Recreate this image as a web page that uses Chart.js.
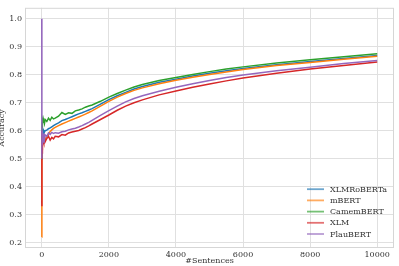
<!DOCTYPE html>
<html>
<head>
<meta charset="utf-8">
<script src="https://cdn.jsdelivr.net/npm/chart.js@4"></script>
<style>
  html, body { margin: 0; padding: 0; background: #fff; }
  #wrap { width: 399px; height: 266px; }
</style>
</head>
<body>
<div id="wrap"><canvas id="c" width="399" height="266"></canvas></div>
<script>
const sentences = [0, 1, 2, 3, 4, 6, 8, 10, 15, 20,
  30, 40, 60, 80, 100, 150, 200, 250, 300, 350,
  400, 500, 600, 700, 800, 900, 1000, 1100, 1200, 1300,
  1400, 1500, 1750, 2000, 2250, 2500, 2750, 3000, 3500, 4000,
  4500, 5000, 5500, 6000, 7000, 8000, 9000, 10000];

const xlmRoberta = [0.52, 0.50, 0.55, 0.52, 0.56, 0.55, 0.58, 0.56, 0.59, 0.58,
  0.60, 0.59, 0.60, 0.595, 0.60, 0.602, 0.607, 0.61, 0.614, 0.618,
  0.622, 0.628, 0.636, 0.64, 0.645, 0.65, 0.655, 0.66, 0.664, 0.669,
  0.674, 0.679, 0.695, 0.711, 0.725, 0.737, 0.749, 0.758, 0.773, 0.784,
  0.795, 0.805, 0.814, 0.822, 0.836, 0.847, 0.858, 0.869];
const mBert = [0.22, 0.30, 0.40, 0.45, 0.50, 0.52, 0.55, 0.53, 0.56, 0.55,
  0.57, 0.56, 0.57, 0.575, 0.57, 0.578, 0.588, 0.597, 0.603, 0.608,
  0.612, 0.618, 0.624, 0.629, 0.634, 0.639, 0.644, 0.649, 0.654, 0.659,
  0.665, 0.671, 0.688, 0.705, 0.72, 0.733, 0.744, 0.753, 0.768, 0.78,
  0.791, 0.801, 0.81, 0.819, 0.833, 0.844, 0.855, 0.866];
const camembert = [0.50, 0.60, 0.63, 0.60, 0.62, 0.58, 0.63, 0.61, 0.635, 0.62,
  0.64, 0.63, 0.635, 0.625, 0.64, 0.633, 0.645, 0.637, 0.648, 0.642,
  0.645, 0.652, 0.665, 0.658, 0.664, 0.662, 0.671, 0.674, 0.678, 0.684,
  0.688, 0.692, 0.705, 0.72, 0.733, 0.745, 0.756, 0.765, 0.779, 0.79,
  0.801, 0.811, 0.82, 0.828, 0.842, 0.853, 0.864, 0.875];
const xlm = [0.35, 0.33, 0.38, 0.50, 0.55, 0.60, 0.52, 0.58, 0.55, 0.57,
  0.54, 0.57, 0.56, 0.575, 0.56, 0.572, 0.58, 0.566, 0.576, 0.571,
  0.58, 0.578, 0.586, 0.584, 0.592, 0.595, 0.598, 0.601, 0.606, 0.611,
  0.617, 0.624, 0.64, 0.656, 0.673, 0.688, 0.70, 0.71, 0.728, 0.742,
  0.755, 0.767, 0.778, 0.788, 0.805, 0.82, 0.833, 0.845];
const flaubert = [1.0, 0.50, 0.62, 0.55, 0.60, 0.52, 0.60, 0.56, 0.60, 0.55,
  0.58, 0.56, 0.59, 0.57, 0.585, 0.58, 0.592, 0.587, 0.594, 0.59,
  0.593, 0.591, 0.596, 0.598, 0.603, 0.606, 0.609, 0.613, 0.618, 0.624,
  0.63, 0.637, 0.655, 0.672, 0.688, 0.703, 0.715, 0.725, 0.741, 0.755,
  0.768, 0.779, 0.79, 0.799, 0.814, 0.827, 0.84, 0.851];

const modelNames = ['XLMRoBERTa', 'mBERT', 'CamemBERT', 'XLM', 'FlauBERT'];
const modelValues = [xlmRoberta, mBert, camembert, xlm, flaubert];
const colors = ['#1f77b4', '#ff7f0e', '#2ca02c', '#d62728', '#9467bd'];

const xTicks = [0, 2000, 4000, 6000, 8000, 10000];
const yTicks = [0.2, 0.3, 0.4, 0.5, 0.6, 0.7, 0.8, 0.9, 1.0];

const FONT = "'DejaVu Serif', serif";
const TEXT = '#333333';

const datasets = modelNames.map((name, i) => ({
  label: name,
  data: sentences.map((s, j) => ({ x: s, y: modelValues[i][j] })),
  borderColor: colors[i],
  borderWidth: 1.5,
  pointRadius: 0,
  tension: 0,
  fill: false,
  order: modelNames.length - 1 - i   // later series on top, like matplotlib
}));

// light frame round the plot area
const framePlugin = {
  id: 'frame',
  afterDraw(chart) {
    const a = chart.chartArea, ctx = chart.ctx;
    ctx.save();
    ctx.strokeStyle = '#d6d6d6';
    ctx.lineWidth = 1;
    ctx.strokeRect(a.left + 0.5, a.top + 0.5, a.right - a.left - 1, a.bottom - a.top - 1);
    ctx.restore();
  }
};

// legend in the lower right, inside the axes
const legendPlugin = {
  id: 'innerLegend',
  afterDatasetsDraw(chart) {
    const a = chart.chartArea, ctx = chart.ctx;
    const x0 = a.right - 87, rowH = 11.2;
    const y0 = a.bottom - 14 - rowH * (modelNames.length - 1);
    ctx.save();
    ctx.font = '8px ' + FONT;
    ctx.textBaseline = 'middle';
    modelNames.forEach((name, i) => {
      const y = y0 + i * rowH;
      ctx.globalAlpha = 0.65;
      ctx.strokeStyle = colors[i];
      ctx.lineWidth = 1.8;
      ctx.beginPath();
      ctx.moveTo(x0, y);
      ctx.lineTo(x0 + 17, y);
      ctx.stroke();
      ctx.globalAlpha = 1;
      ctx.fillStyle = TEXT;
      ctx.fillText(name, x0 + 23, y + 0.5);
    });
    ctx.restore();
  }
};

new Chart(document.getElementById('c'), {
  type: 'line',
  data: { datasets },
  options: {
    responsive: false,
    animation: false,
    layout: { padding: { top: 6, right: 5, left: 0, bottom: 0 } },
    plugins: { legend: { display: false }, tooltip: { enabled: false } },
    scales: {
      x: {
        type: 'linear',
        min: -500,
        max: 10500,
        afterFit(scale) { scale.height = 18; },
        afterBuildTicks(scale) { scale.ticks = xTicks.map(v => ({ value: v })); },
        ticks: {
          padding: 2,
          font: { family: FONT, size: 8 },
          color: TEXT,
          callback: v => String(v)
        },
        grid: { color: '#e0e0e0', lineWidth: 1, drawTicks: false },
        border: { display: false },
        title: {
          display: true,
          text: '#Sentences',
          font: { family: FONT, size: 8 },
          color: TEXT,
          padding: 0
        }
      },
      y: {
        type: 'linear',
        min: 0.181,
        max: 1.039,
        afterFit(scale) { scale.width = 25; },
        afterBuildTicks(scale) { scale.ticks = yTicks.map(v => ({ value: v })); },
        ticks: {
          padding: 3,
          font: { family: FONT, size: 8 },
          color: TEXT,
          callback: v => v.toFixed(1)
        },
        grid: { color: '#e0e0e0', lineWidth: 1, drawTicks: false },
        border: { display: false },
        title: {
          display: true,
          text: 'Accuracy',
          font: { family: FONT, size: 8 },
          color: TEXT,
          padding: { top: -3, bottom: 0 }
        }
      }
    }
  },
  plugins: [framePlugin, legendPlugin]
});
</script>
</body>
</html>
